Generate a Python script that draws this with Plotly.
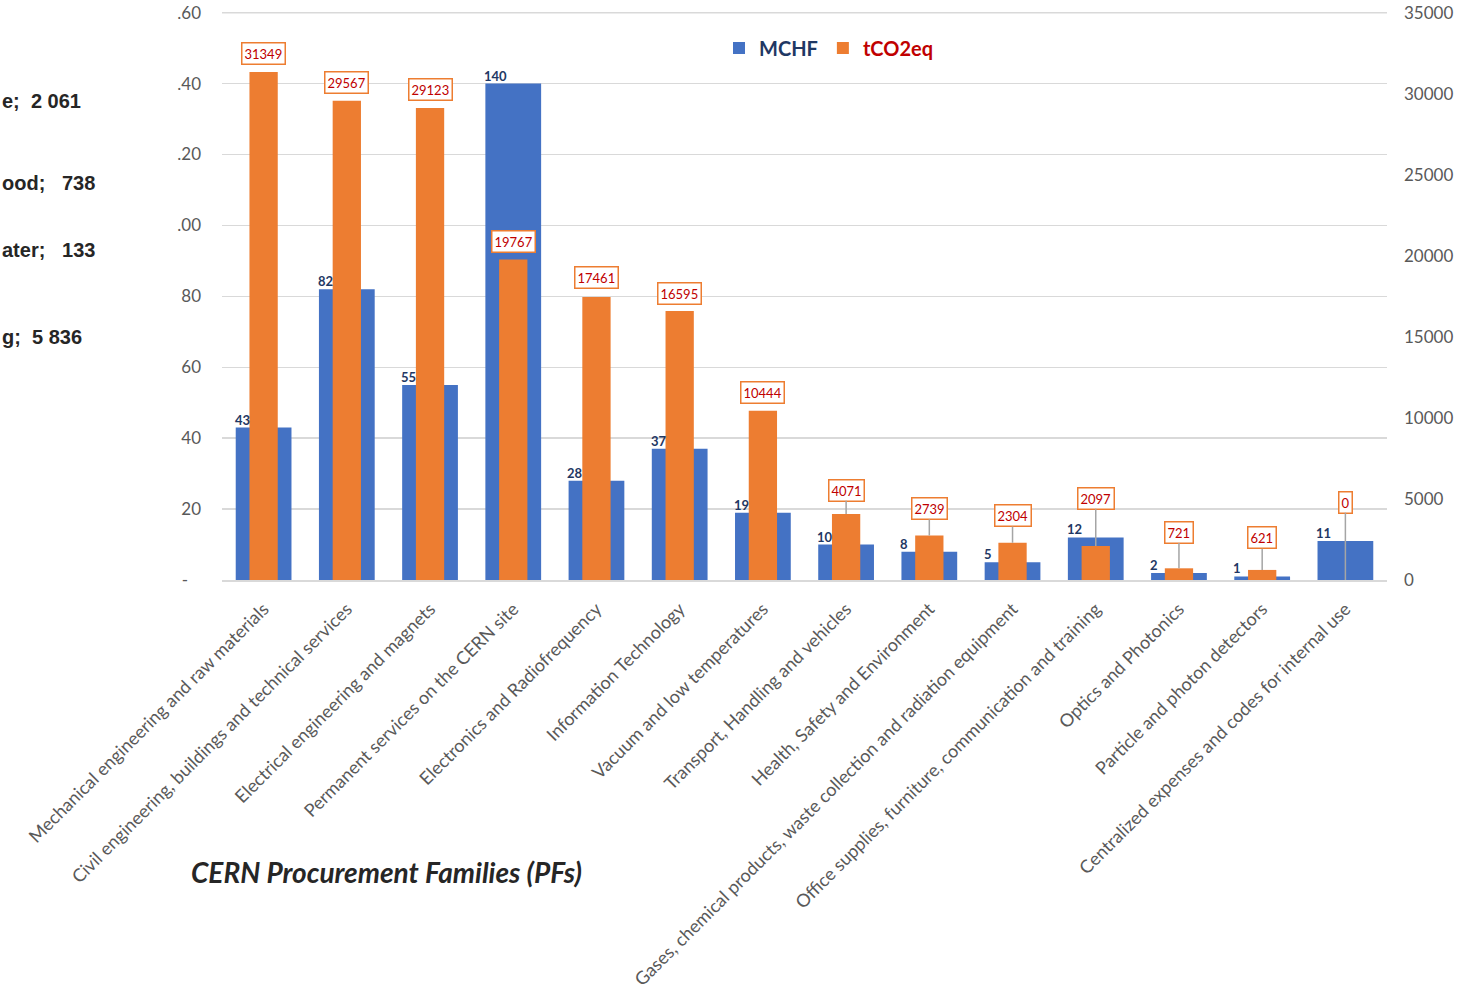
import plotly.graph_objects as go

# ---------------- data ----------------
categories = [
    "Mechanical engineering and raw materials",
    "Civil engineering, buildings and technical services",
    "Electrical engineering and magnets",
    "Permanent services on the CERN site",
    "Electronics and Radiofrequency",
    "Information Technology",
    "Vacuum and low temperatures",
    "Transport, Handling and vehicles",
    "Health, Safety and Environment",
    "Gases, chemical products, waste collection and radiation equipment",
    "Office supplies, furniture, communication and training",
    "Optics and Photonics",
    "Particle and photon detectors",
    "Centralized expenses and codes for internal use",
]
mchf = [43, 82, 55, 140, 28, 37, 19, 10, 8, 5, 12, 2, 1, 11]
tco2eq = [31349, 29567, 29123, 19767, 17461, 16595, 10444, 4071, 2739, 2304, 2097, 721, 621, 0]

left_tick_vals = [0, 20, 40, 60, 80, 100, 120, 140, 160]
left_tick_text = ["-\u00a0\u00a0\u00a0", "20", "40", "60", "80", ".00", ".20", ".40", ".60"]
right_tick_vals = [0, 5000, 10000, 15000, 20000, 25000, 30000, 35000]

side_texts = ["e;  2 061", "ood;   738", "ater;   133", "g;  5 836"]
x_title = "CERN Procurement Families (PFs)"

# ---------------- styling ----------------
BLUE = "#4472C4"
ORANGE = "#ED7D31"
NAVY = "#1F3864"
DARKRED = "#C00000"
GRAY_TXT = "#595959"
GRID = "#D9D9D9"
FONT = "Lato"

# pixel offsets of the tCO2eq label boxes above their bar tops
label_offsets = [18, 18, 18, 18, 19, 18, 18, 24, 27, 27, 48, 36, 32, 78]
side_text_y = [101, 183, 250, 337]  # pixel rows of the clipped side texts

W, H = 1462, 1001
L, R, T, B = 222, 75, 12, 421
PW, PH = W - L - R, H - T - B


def px_x(px):
    return (px - L) / PW


def px_y(py):
    return (H - B - py) / PH


fig = go.Figure()
fig.add_trace(go.Bar(
    x=categories, y=mchf, name=f"<b><span style='color:{NAVY}'>MCHF</span></b>",
    marker=dict(color=BLUE, line=dict(width=0)), width=0.67, yaxis="y",
    hoverinfo="skip",
))
fig.add_trace(go.Bar(
    x=categories, y=tco2eq, name=f"<b><span style='color:{DARKRED}'>tCO2eq</span></b>",
    marker=dict(color=ORANGE, line=dict(width=0)), width=0.34, yaxis="y2",
    hoverinfo="skip",
))

annotations = []
for c, v in zip(categories, mchf):
    annotations.append(dict(
        x=c, y=v, xref="x", yref="y", text=f"<b>{v}</b>", showarrow=False,
        xanchor="left", yanchor="bottom", xshift=-31, yshift=-2,
        font=dict(family=FONT, size=13, color=NAVY),
    ))
for c, v, off in zip(categories, tco2eq, label_offsets):
    annotations.append(dict(
        x=c, y=v, xref="x", yref="y2", text=str(v), showarrow=True,
        arrowhead=0, arrowwidth=1.5,
        arrowcolor="#A5A5A5" if off > 22 else "rgba(0,0,0,0)",
        ax=0, ay=-off, standoff=0,
        bordercolor=ORANGE, borderwidth=1.5, borderpad=2, bgcolor="white",
        font=dict(family=FONT, size=13, color=DARKRED),
    ))
for t, py in zip(side_texts, side_text_y):
    annotations.append(dict(
        x=-L / PW, y=px_y(py), xref="paper", yref="paper",
        text=f"<b>{t}</b>", showarrow=False, xanchor="left", yanchor="middle",
        font=dict(family="Liberation Sans", size=20, color="#262626"),
    ))
annotations.append(dict(
    x=px_x(189), y=px_y(872), xref="paper", yref="paper",
    text=f"<b><i>{x_title}</i></b>", showarrow=False, xanchor="left", yanchor="middle",
    font=dict(family=FONT, size=28, color="#262626"),
))

fig.update_layout(
    width=W, height=H,
    margin=dict(l=L, r=R, t=T, b=B, autoexpand=False),
    paper_bgcolor="white", plot_bgcolor="white",
    barmode="overlay",
    font=dict(family=FONT, color=GRAY_TXT),
    showlegend=True,
    legend=dict(
        orientation="h", x=px_x(719), xanchor="left",
        y=px_y(48), yanchor="middle",
        bgcolor="rgba(0,0,0,0)", font=dict(family=FONT, size=20),
        itemwidth=30, traceorder="normal",
    ),
    xaxis=dict(
        type="category", tickangle=-45, showgrid=False, showline=True,
        linecolor=GRID, linewidth=1.5, ticks="", ticklabelstandoff=10,
        tickfont=dict(family=FONT, size=18, color=GRAY_TXT),
        range=[-0.5, len(categories) - 0.5],
    ),
    yaxis=dict(
        range=[0, 160.2], tickvals=left_tick_vals, ticktext=left_tick_text,
        showgrid=True, gridcolor=GRID, gridwidth=1.5, zeroline=False,
        showline=False, ticks="", ticklabelstandoff=20, ticklabeloverflow="allow",
        tickfont=dict(family=FONT, size=17, color=GRAY_TXT),
    ),
    yaxis2=dict(
        range=[0, 35000 * 160.2 / 160], tickvals=right_tick_vals, tickformat="d",
        overlaying="y", side="right",
        showgrid=False, zeroline=False, showline=False, ticks="",
        ticklabelstandoff=16, ticklabeloverflow="allow",
        tickfont=dict(family=FONT, size=17, color=GRAY_TXT),
    ),
    shapes=[dict(
        type="line", xref="paper", yref="y", x0=0, x1=1, y0=160, y1=160,
        line=dict(color=GRID, width=1.5), layer="below",
    )],
    annotations=annotations,
)

fig.write_html(
    "out.html",
    config={"displayModeBar": False, "staticPlot": True},
    post_script="document.body.style.margin='0';document.body.style.overflow='hidden';",
)
